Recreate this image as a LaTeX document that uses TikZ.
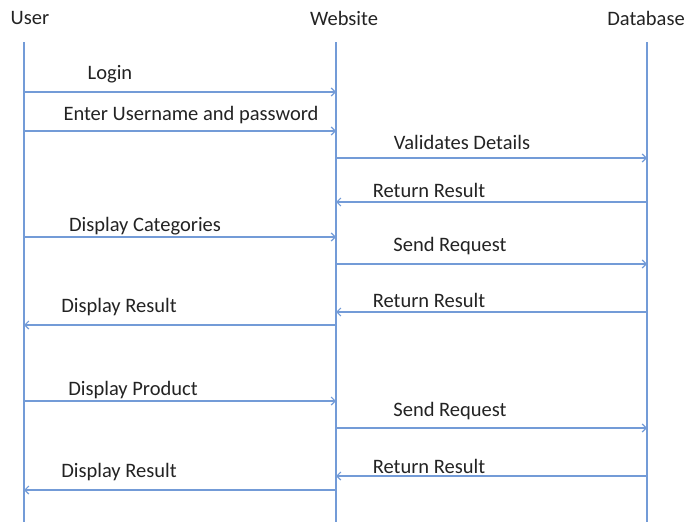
\documentclass[tikz,border=0pt]{standalone}
\usepackage{fontspec}
\setmainfont{Carlito}
\usepackage{xcolor}
\usetikzlibrary{arrows.meta}

\definecolor{lineblue}{RGB}{115,155,215}
\definecolor{textgray}{RGB}{35,35,35}

\tikzset{
  life/.style={draw=lineblue, line width=1.2pt},
  msg/.style={draw=lineblue, line width=1.2pt, -{Straight Barb[length=4pt,width=8pt]}},
  lbl/.style={font=\fontsize{20.5}{23}\selectfont, text=textgray, inner sep=0pt}
}

\begin{document}
\begin{tikzpicture}[x=1pt,y=-1pt]
                \useasboundingbox (0,0) rectangle (686,522);
                % Heads
                \node[lbl] (user) at (30,18) {User};
                \node[lbl] (web) at (344,18) {Website};
                \node[lbl] (db) at (646,18) {Database};

                % Lifelines
                \coordinate (usertop) at (24,42);
                \coordinate (userbot) at (24,522);
                \coordinate (webtop) at (336,42);
                \coordinate (webbot) at (336,522);
                \coordinate (dbtop) at (647,42);
                \coordinate (dbbot) at (647,522);
                \draw[life] (usertop) -- (userbot);
                \draw[life] (webtop) -- (webbot);
                \draw[life] (dbtop) -- (dbbot);

                % Message points
                \foreach \y/\n in {92/1,131/2,158/3,202/4,237/5,264/6,312/7,325/8,401/9,428/10,476/11,490/12}{
                  \coordinate (u\n) at (24,\y);
                  \coordinate (w\n) at (336,\y);
                  \coordinate (d\n) at (647,\y);
                }

                % Messages
                \draw[msg] (u1) -- (w1);
                \draw[msg] (u2) -- (w2);
                \draw[msg] (w3) -- (d3);
                \draw[msg] (d4) -- (w4);
                \draw[msg] (u5) -- (w5);
                \draw[msg] (w6) -- (d6);
                \draw[msg] (d7) -- (w7);
                \draw[msg] (w8) -- (u8);
                \draw[msg] (u9) -- (w9);
                \draw[msg] (w10) -- (d10);
                \draw[msg] (d11) -- (w11);
                \draw[msg] (w12) -- (u12);

                % Labels
                \node[lbl] (login) at (110,74) {Login};
                \node[lbl] (enter) at (191,115) {Enter Username and password};
                \node[lbl] (validate) at (462,142) {Validates Details};
                \node[lbl] (ret1) at (429,190) {Return Result};
                \node[lbl] (cats) at (145,226) {Display Categories};
                \node[lbl] (send1) at (450,246) {Send Request};
                \node[lbl] (ret2) at (429,300) {Return Result};
                \node[lbl] (res1) at (119,307) {Display Result};
                \node[lbl] (prod) at (133,390) {Display Product};
                \node[lbl] (send2) at (450,411) {Send Request};
                \node[lbl] (ret3) at (429,466) {Return Result};
                \node[lbl] (res2) at (119,472) {Display Result};
\end{tikzpicture}
\end{document}
